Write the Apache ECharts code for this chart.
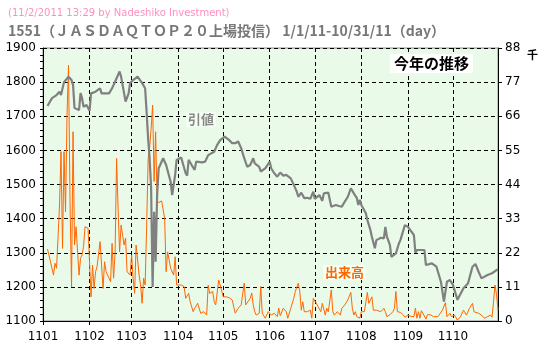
<!DOCTYPE html>
<html>
<head>
<meta charset="utf-8">
<script src="https://cdn.jsdelivr.net/npm/echarts@6/dist/echarts.min.js"></script>
<style>
  html, body { margin: 0; padding: 0; background: #fff; }
  #chart { width: 543px; height: 353px; }
</style>
</head>
<body>
<div id="chart"></div>
<script>
// days counted from 2011-01-01 (0 = Jan 1)
const priceDay = [
  3, 6, 9, 11, 12, 14, 17, 19, 20, 21, 24, 25, 26, 27, 29,
  31, 32, 35, 38, 39, 44, 46, 48, 51, 52, 55, 57, 58,
  60, 63, 66, 68, 69, 70, 71, 72, 73, 74, 75, 76, 77, 80, 82, 85, 86, 88, 89,
  92, 95, 96, 97, 99, 101, 102, 106, 108, 110, 114, 116, 118,
  121, 124, 126, 128, 130, 132, 134, 136, 138, 140, 141, 144, 145, 148,
  151, 152, 154, 156, 158, 160, 162, 165, 167, 169, 170, 172, 174, 176, 178, 180,
  181, 182, 184, 186, 187, 190, 192, 195, 197, 199, 201, 203, 205, 207, 209, 210, 211,
  212, 215, 216, 218, 219, 221, 222, 225, 227, 228, 229, 231, 232, 235, 237, 238, 241,
  243, 247, 248, 249, 254, 255, 259, 262, 265, 267, 269, 271,
  273, 276, 280, 283, 286, 288, 290, 292, 296, 299, 303
];
const priceVal = [
  1730, 1753, 1762, 1772, 1762, 1800, 1816, 1806, 1792, 1724, 1718, 1768, 1753, 1728, 1733,
  1716, 1767, 1772, 1782, 1767, 1767, 1782, 1801, 1831, 1816, 1743, 1767, 1797,
  1806, 1816, 1797, 1782, 1713, 1635, 1577, 1489, 1200, 1420, 1274, 1469, 1547, 1577, 1557, 1508, 1469, 1528, 1572,
  1579, 1533, 1526, 1572, 1557, 1543, 1567, 1565, 1567, 1586, 1596, 1616, 1630,
  1640, 1630, 1621, 1621, 1626, 1606, 1577, 1552, 1557, 1577, 1562, 1552, 1538, 1547,
  1567, 1547, 1533, 1523, 1535, 1526, 1528, 1518, 1499, 1479, 1464, 1476, 1460, 1461, 1458, 1479,
  1458, 1455, 1469, 1452, 1474, 1476, 1435, 1440, 1437, 1435, 1450, 1464, 1489, 1474, 1460, 1440, 1455,
  1440, 1416, 1396, 1367, 1347, 1313, 1337, 1344, 1342, 1376, 1347, 1323, 1288, 1298, 1327, 1337, 1381,
  1376, 1352, 1300, 1308, 1308, 1264, 1269, 1259, 1215, 1157, 1215, 1220,
  1206, 1162, 1196, 1210, 1259, 1267, 1245, 1225, 1235, 1240, 1252
];

// volume in thousands of shares
const volDay = [
  3, 5, 7, 8, 9, 10, 11, 12, 13, 14, 15, 16, 17, 18, 19, 20, 21, 22, 24, 25, 26, 27, 28, 30,
  31, 32, 33, 34, 35, 36, 38, 40, 41, 42, 45, 46, 47, 48, 49, 50, 51, 52, 54, 55, 56, 57, 58,
  59, 60, 61, 62, 64, 65, 66, 67, 68, 69, 70, 71, 72, 73, 74, 75, 76, 77, 79, 81, 82, 83, 84, 85, 87, 88, 89,
  92, 94, 95, 97, 98, 100, 101, 103, 105, 107, 109, 110, 111, 113, 114, 115, 117, 118,
  120, 122, 124, 126, 128, 130, 132, 133, 134, 135, 138, 139, 140, 141, 142, 144, 145, 146, 148, 149, 150,
  152, 154, 155, 156, 157, 158, 160, 162, 163, 165, 167, 168, 170, 171, 172, 173, 174, 176, 177, 178, 179, 180,
  182, 183, 185, 186, 188, 189, 190, 192, 193, 194, 196, 198, 199, 201, 203, 205, 206, 207, 208, 209, 211,
  212, 214, 216, 217, 218, 219, 220, 222, 223, 225, 227, 228, 229, 231, 233, 234, 235, 236, 238, 240, 241,
  243, 245, 247, 248, 249, 250, 251, 252, 253, 255, 256, 258, 260, 263, 266, 268, 269, 271, 272,
  274, 276, 278, 280, 282, 284, 286, 287, 288, 290, 292, 294, 296, 298, 299, 300, 301, 302, 303
];
const volVal = [
  23.2, 19.1, 14.8, 18.6, 17, 26.7, 37.4, 54.6, 23.4, 54.6, 35.2, 66.4, 82.5, 38.5, 11.1, 61, 24.5, 30.4, 14.8, 20.2, 21.3, 24, 30.4, 29.9,
  29.3, 7.8, 18, 10.5, 15.9, 17.5, 25.6, 10.5, 19.1, 15.9, 12.7, 25, 13.8, 21.8, 52.4, 36.3, 22.3, 30.9, 24.5, 26.7, 15.9, 15.4, 14.8,
  21.3, 13.8, 8.9, 24.5, 14.8, 11.6, 5.7, 13.8, 11.6, 30, 52, 56, 62, 69.6, 45, 61, 38, 38, 38.7, 33.1, 15.9, 22.3, 19.7, 17, 14.8, 20.7, 11.6,
  11.6, 11.1, 7.3, 8.9, 6.2, 3, 4.1, 5.7, 2.5, 3, 1.9, 11.6, 8.9, 9.5, 6.2, 5.2, 13.2, 11.6,
  7.8, 7.8, 7.5, 6.8, 2.5, 4.1, 5.2, 8.9, 12.2, 5.2, 7.3, 9, 5.2, 3, 1.9, 2.5, 11.1, 2.5, 0.9, 1.4, 3,
  1.9, 2.5, 3, 1.4, 4.1, 1.7, 4.1, 3, 0.9, 4.1, 7.3, 9.5, 12.2, 9.5, 3.5, 6.2, 3, 3, 2.5, 3.5, 0.9, 7.3,
  5.7, 5.2, 3, 5.7, 1.9, 4.1, 3, 10, 3, 1.9, 3, 1.9, 4.1, 5.2, 6.8, 9.2, 4.1, 1.9, 3, 1.4, 0.9,
  3, 3, 9.2, 5.7, 6.2, 7.8, 3.5, 3.5, 4, 3, 4.1, 3, 1.4, 2, 3, 4, 9.5, 3, 2.8, 1.9, 1.2,
  1.9, 1.5, 1.4, 4.1, 0.9, 3, 0.9, 3.3, 2.5, 0.6, 2, 2, 1.4, 1.4, 3.5, 5.9, 1.4, 2.5, 1.4,
  1.9, 0.3, 1.4, 3.5, 1.9, 4.1, 5.7, 3, 3.5, 2.5, 1.9, 0.9, 1.4, 1.9, 1.2, 6, 11.6, 8.6, 3.5
];

const priceTicks = [1100, 1900, 100];
const volTicks = [0, 88, 11];

// every calendar day from 2011-01-01 to 2011-10-31
const days = [];
for (let t = Date.UTC(2011, 0, 1); t <= Date.UTC(2011, 9, 31); t += 86400000) {
  const d = new Date(t);
  days.push(String(d.getUTCMonth() + 1).padStart(2, '0') + '-' + String(d.getUTCDate()).padStart(2, '0'));
}
const isMonthStart = (i, v) => v.slice(3) === '01';

const chart = echarts.init(document.getElementById('chart'));

const option = {
  backgroundColor: '#fff',
  animation: false,
  grid: {
    left: 43, right: 45, top: 48, bottom: 32,
    show: true,
    backgroundColor: '#e9fae9',
    borderColor: '#8a8a8a',
    borderWidth: 1
  },
  xAxis: {
    type: 'category',
    data: days,
    boundaryGap: false,
    axisLine: { lineStyle: { color: '#000', width: 1 } },
    axisTick: { show: true, interval: isMonthStart, length: 4, lineStyle: { color: '#000' } },
    axisLabel: {
      interval: isMonthStart,
      formatter: v => '11' + v.slice(0, 2),
      color: '#000', fontSize: 12, fontFamily: 'DejaVu Sans', margin: 10
    },
    splitLine: { show: true, interval: isMonthStart, lineStyle: { color: '#000', type: [4, 3] } }
  },
  yAxis: [
    {
      type: 'value',
      min: priceTicks[0], max: priceTicks[1], interval: priceTicks[2],
      axisLine: { show: true, lineStyle: { color: '#000' } },
      axisTick: { show: true, length: 3, lineStyle: { color: '#000' } },
      minorTick: { show: true, splitNumber: 5, length: 3, lineStyle: { color: '#000' } },
      axisLabel: { color: '#000', fontSize: 12, fontFamily: 'DejaVu Sans', margin: 7, formatter: v => String(v) },
      splitLine: { show: true, lineStyle: { color: '#000', type: [4, 3] } }
    },
    {
      type: 'value',
      position: 'right',
      min: volTicks[0], max: volTicks[1], interval: volTicks[2],
      axisLine: { show: true, lineStyle: { color: '#000' } },
      axisTick: { show: true, length: 4, lineStyle: { color: '#000' } },
      axisLabel: { color: '#000', fontSize: 12, fontFamily: 'DejaVu Sans', margin: 7, formatter: v => String(v) },
      splitLine: { show: false }
    }
  ],
  series: [
    {
      name: '出来高',
      type: 'line',
      yAxisIndex: 1,
      data: volDay.map((d, i) => [d, volVal[i]]),
      showSymbol: false,
      lineStyle: { color: '#ff6600', width: 1 },
      z: 2
    },
    {
      name: '引値',
      type: 'line',
      data: priceDay.map((d, i) => [d, priceVal[i]]),
      showSymbol: false,
      lineStyle: { color: '#808080', width: 2.2 },
      z: 3
    }
  ],
  graphic: [
    {
      type: 'text', left: 8, top: 8,
      style: { text: '(11/2/2011 13:29 by Nadeshiko Investment)', fill: '#ff8fc0', font: '10px "DejaVu Sans"' }
    },
    {
      type: 'text', left: 8, top: 24,
      style: { text: '1551（ＪＡＳＤＡＱＴＯＰ２０上場投信） 1/1/11-10/31/11（day）', fill: '#777', font: 'bold 14px "Noto Sans CJK JP"' }
    },
    {
      type: 'text', left: 390, top: 54, z: 10,
      style: {
        text: '今年の推移', fill: '#000', font: 'bold 15px "Noto Sans CJK JP"',
        backgroundColor: '#fff', padding: [2, 4]
      }
    },
    {
      type: 'text', left: 186, top: 112, z: 10,
      style: {
        text: '引値', fill: '#888', font: 'bold 13px "Noto Sans CJK JP"',
        backgroundColor: '#f4fff4', padding: [1, 2]
      }
    },
    {
      type: 'text', left: 323, top: 265, z: 10,
      style: {
        text: '出来高', fill: '#ff6600', font: 'bold 13px "Noto Sans CJK JP"',
        backgroundColor: '#f4fff4', padding: [1, 2]
      }
    },
    {
      type: 'text', left: 527, top: 49,
      style: { text: '千', fill: '#000', font: 'bold 11px "Noto Sans CJK JP"' }
    }
  ]
};

chart.setOption(option);
window.addEventListener('resize', () => chart.resize());
</script>
</body>
</html>
